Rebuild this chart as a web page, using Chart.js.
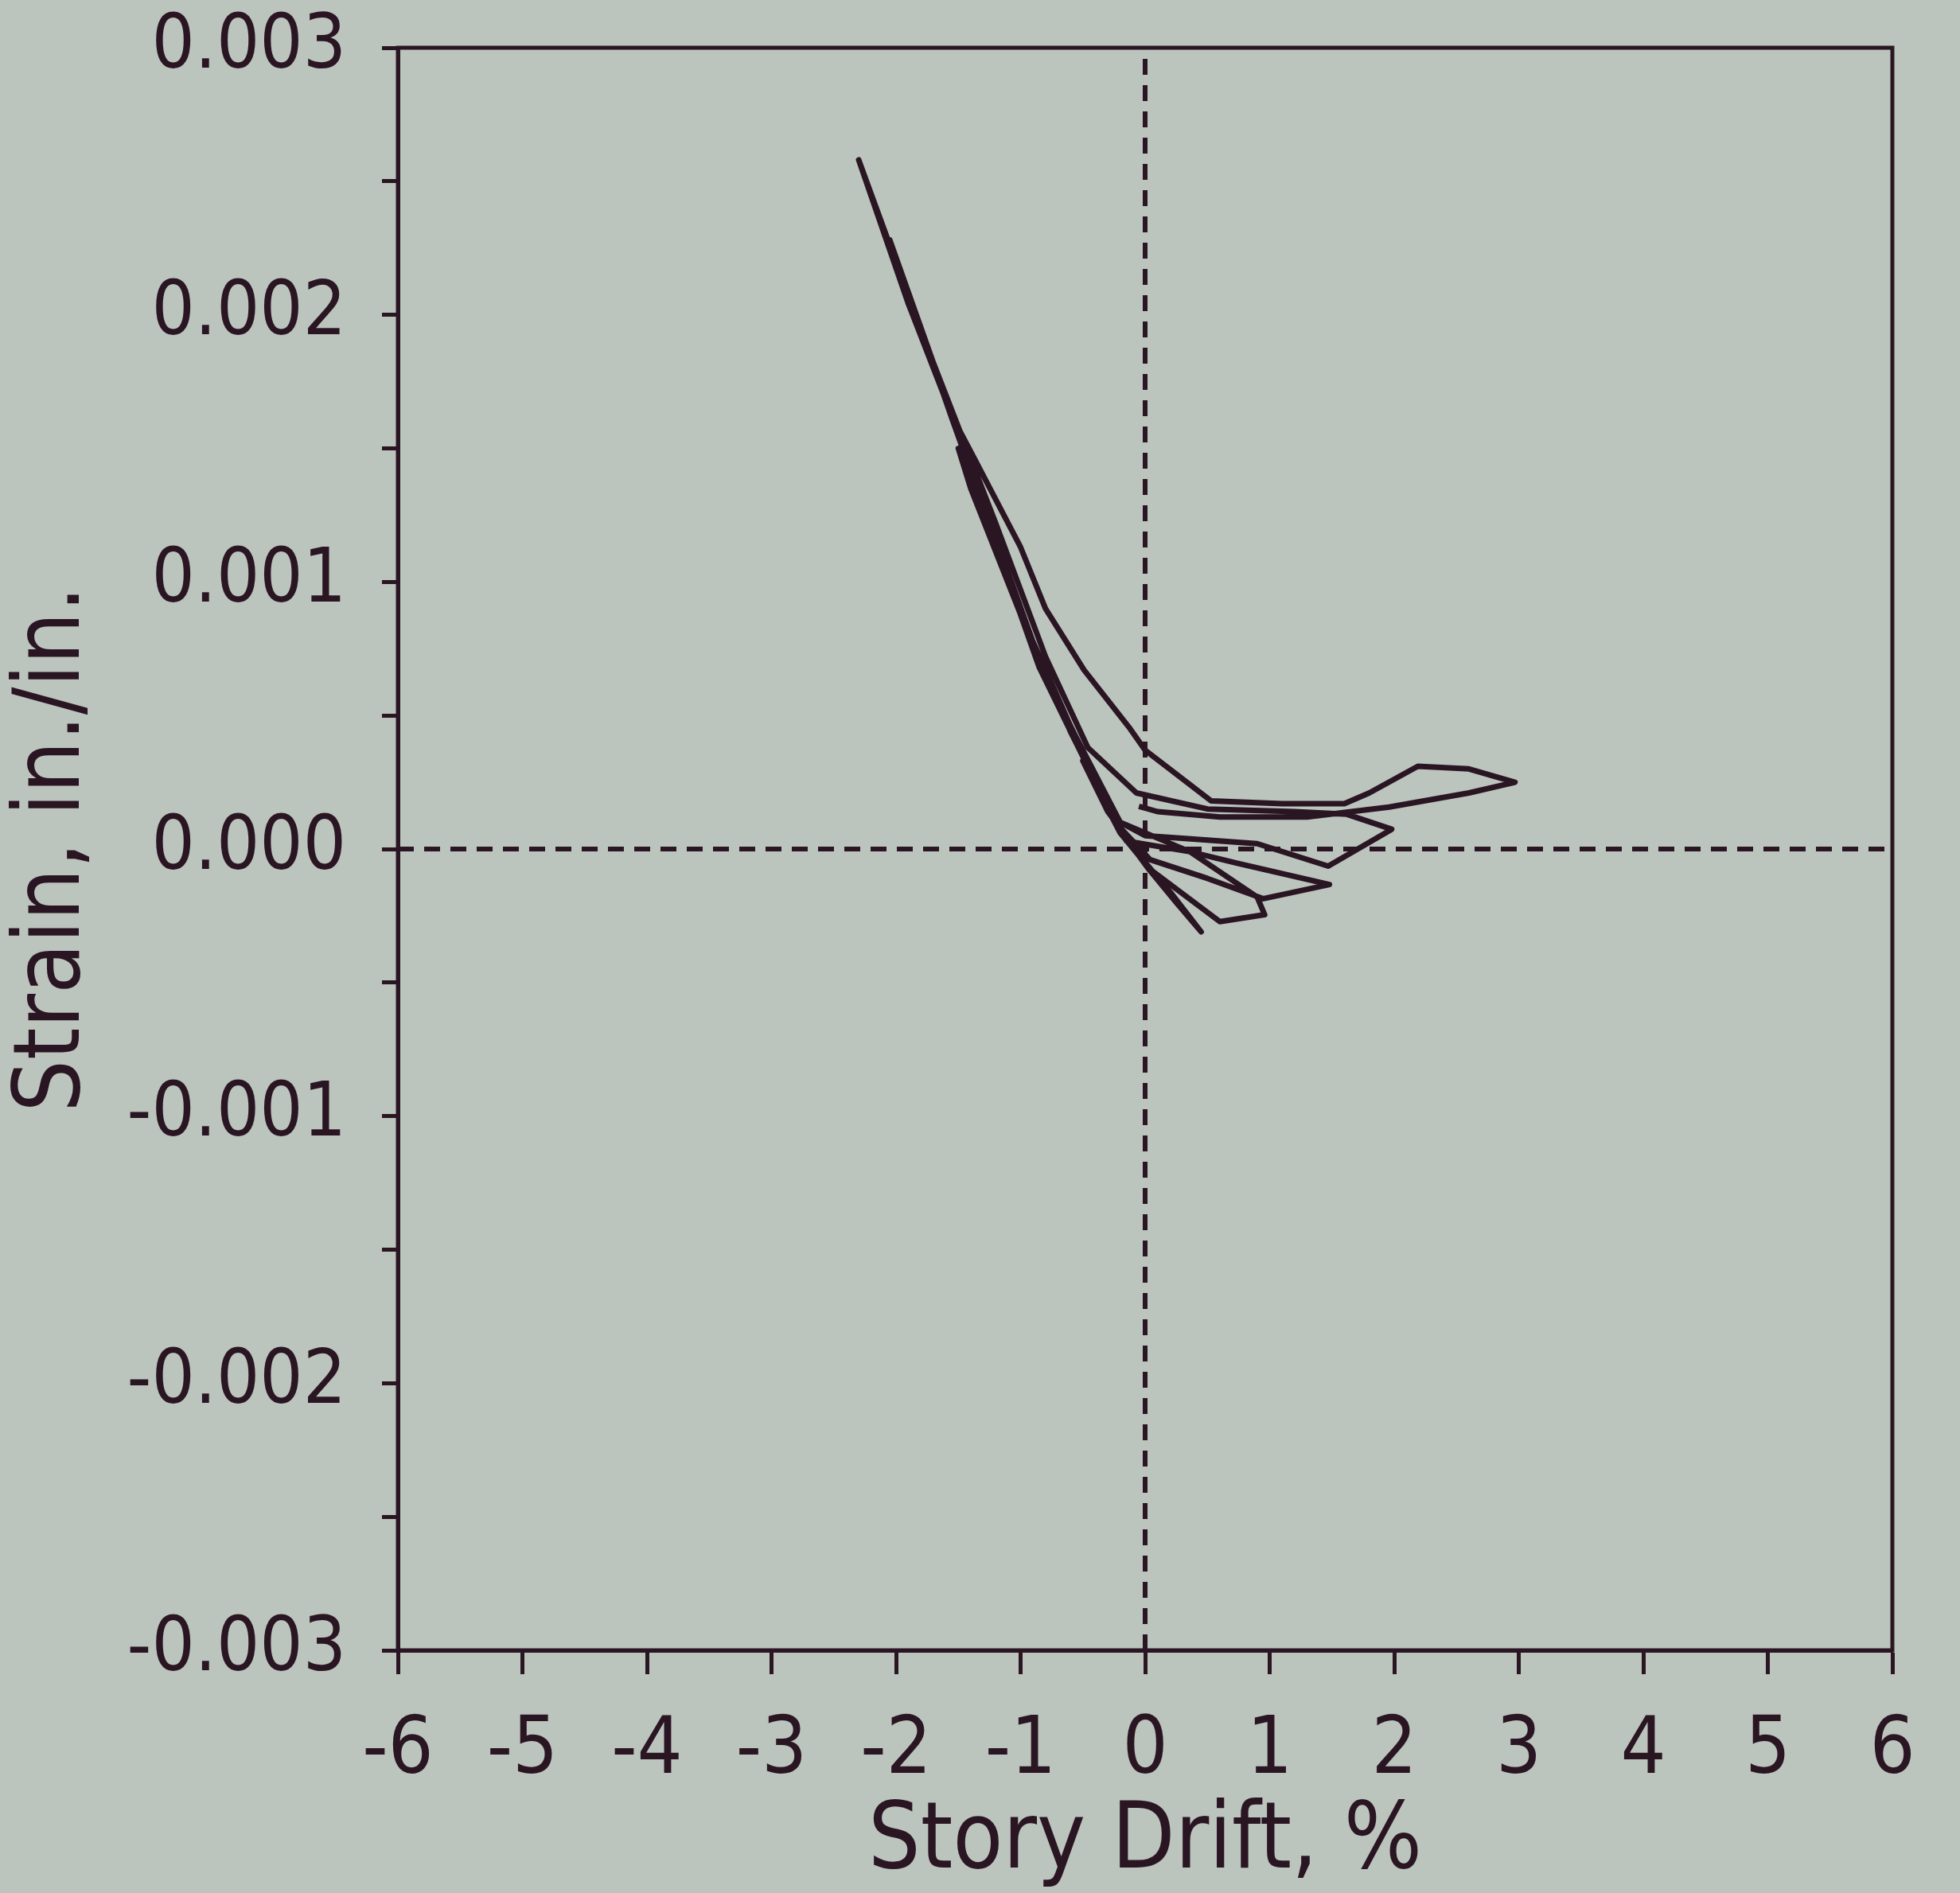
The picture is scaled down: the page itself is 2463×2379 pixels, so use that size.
<!DOCTYPE html>
<html>
<head>
<meta charset="utf-8">
<script src="https://cdn.jsdelivr.net/npm/chart.js@4.4.1/dist/chart.umd.min.js"></script>
<style>
html, body { margin: 0; padding: 0; background: #bcc4be; }
canvas { display: block; }
</style>
</head>
<body>
<canvas id="grafico" width="2463" height="2379"></canvas>
<script>
// deriva de andar (%) e deformacao (in./in.), em ordem de ensaio
const deriva = [
    0, -0.2, -0.4, -0.5, -0.3, 0, 0.2, 0.45, 0.25, 0.02,
    -0.2, -0.6, -1.0, -0.75, -0.42, -0.15, 0.36, 0.9, 0.96, 0.6, 0.04,
    -0.2, -0.85, -1.2, -1.5, -1.4, -0.9, -0.5, -0.2, 0.36, 0.74, 1.48, 0.95, 0.5, 0.04,
    -0.2, -0.85, -1.55, -2.05, -1.7, -1.2, -0.8, -0.46, -0.07, 0.5, 1.2, 1.62, 1.98, 1.47, 0.9, 0.3, 0,
    -0.2, -0.6, -0.85, -1.55, -1.9, -2.3, -1.9, -1.55, -1.38, -1.0, -0.8, -0.49, -0.12, 0,
    0.53, 1.1, 1.6, 1.8, 2.19, 2.6, 2.97, 2.6, 1.96, 1.3, 0.6, 0.1, -0.05
];
const deformacao = [
    0, 0.00006, 0.00024, 0.00033, 0.00014, -0.00005, -0.00016, -0.00031, -0.0002, -0.00007,
    0.00007, 0.00044, 0.00088, 0.00062, 0.00027, 0.00003, -0.00001, -0.00018, -0.000246, -0.000272, -0.000076,
    0.00006, 0.00068, 0.00114, 0.0015, 0.00135, 0.00076, 0.00035, 0.0001, -0.00001, -0.000053, -0.000133, -0.000186, -0.00011, -0.00004,
    0.00008, 0.0007, 0.00161, 0.00228, 0.00182, 0.00122, 0.00072, 0.00038, 0.00021, 0.00015, 0.00014, 0.00013, 0.000074, -0.000064, 0.00002, 0.00004, 0.00005,
    0.0001, 0.00046, 0.00071, 0.00162, 0.00207, 0.00258, 0.00204, 0.00162, 0.00147, 0.00113, 0.0009, 0.00067, 0.00045, 0.00037,
    0.00018, 0.00017, 0.00017, 0.00021, 0.00031, 0.0003, 0.00025, 0.00021, 0.000157, 0.00012, 0.00012, 0.00014, 0.00016
];

const ticksX = [-6, -5, -4, -3, -2, -1, 0, 1, 2, 3, 4, 5, 6];
const ticksY = [-0.003, -0.0025, -0.002, -0.0015, -0.001, -0.0005, 0, 0.0005, 0.001, 0.0015, 0.002, 0.0025, 0.003];
const rotulosY = ['-0.003', '-0.002', '-0.001', '0.000', '0.001', '0.002', '0.003'];

// linhas tracejadas de referencia (eixos zero)
const zeroHorizontal = [{x: -6, y: 0}, {x: 6, y: 0}];
const zeroVertical = [{x: 0, y: -0.003}, {x: 0, y: 0.003}];

const tinta = '#2a1622';
const fonte = '"DejaVu Sans Condensed", "Liberation Sans Narrow", "DejaVu Sans", sans-serif';

const pontos = deriva.map((d, i) => ({x: d, y: deformacao[i]}));

const moldura = {
    id: 'moldura',
    afterDraw(chart) {
        const a = chart.chartArea;
        const ctx = chart.ctx;
        ctx.save();
        ctx.strokeStyle = tinta;
        ctx.lineWidth = 5;
        ctx.strokeRect(a.left, a.top, a.right - a.left, a.bottom - a.top);
        ctx.restore();
    }
};

function rotuloY(v) {
    const k = Math.round(v * 1000);
    if (Math.abs(k - v * 1000) > 1e-6) return '';
    return rotulosY[k + 3];
}

const ctx = document.getElementById('grafico');
const myChart = new Chart(ctx, {
    type: 'scatter',
    data: {
        datasets: [{
            data: pontos,
            showLine: true,
            borderColor: tinta,
            borderWidth: 7,
            borderJoinStyle: 'round',
            pointRadius: 0,
            tension: 0,
            order: 0
        }, {
            data: zeroHorizontal,
            showLine: true,
            borderColor: tinta,
            borderWidth: 6,
            borderDash: [20, 13],
            pointRadius: 0,
            order: 1
        }, {
            data: zeroVertical,
            showLine: true,
            borderColor: tinta,
            borderWidth: 6,
            borderDash: [20, 13],
            pointRadius: 0,
            order: 1
        }]
    },
    options: {
        responsive: false,
        devicePixelRatio: 1,
        animation: false,
        layout: { padding: { top: 60, right: 85, left: 0, bottom: 0 } },
        plugins: {
            legend: { display: false },
            tooltip: { enabled: false }
        },
        scales: {
            x: {
                type: 'linear',
                min: -6,
                max: 6,
                afterBuildTicks: s => { s.ticks = ticksX.map(v => ({value: v})); },
                afterFit: s => { s.height = 305; s.paddingLeft = 0; s.paddingRight = 0; },
                grid: { drawOnChartArea: false, drawTicks: true, tickLength: 30, tickWidth: 5, tickColor: tinta },
                border: { display: true, color: tinta, width: 5 },
                ticks: {
                    autoSkip: false, maxRotation: 0, minRotation: 0, padding: 38,
                    color: tinta, font: { family: fonte, size: 100 },
                    callback: v => String(v)
                },
                title: {
                    display: true, text: 'Story Drift, %', color: tinta,
                    font: { family: fonte, size: 115, lineHeight: 1.0 },
                    padding: { top: 0, bottom: 4 }
                }
            },
            y: {
                type: 'linear',
                min: -0.003,
                max: 0.003,
                afterBuildTicks: s => { s.ticks = ticksY.map(v => ({value: v})); },
                afterFit: s => { s.width = 500; s.paddingTop = 0; s.paddingBottom = 0; },
                grid: { drawOnChartArea: false, drawTicks: true, tickLength: 20, tickWidth: 5, tickColor: tinta },
                border: { display: true, color: tinta, width: 5 },
                ticks: {
                    autoSkip: false, padding: 45,
                    color: tinta, font: { family: fonte, size: 95 },
                    callback: v => rotuloY(v)
                },
                title: {
                    display: true, text: 'Strain, in./in.', color: tinta,
                    font: { family: fonte, size: 115, lineHeight: 1.0 },
                    padding: { top: 12, bottom: 0 }
                }
            }
        }
    },
    plugins: [moldura]
});
</script>
</body>
</html>
